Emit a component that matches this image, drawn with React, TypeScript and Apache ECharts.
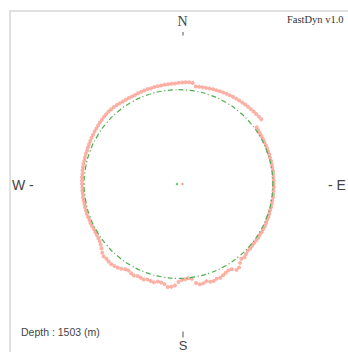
import { useEffect, useRef } from "react";
import * as echarts from "echarts";

// Compass bearing of each caliper reading (deg, clockwise from North)
const ANGLES = [
  0, 2, 4, 6, 8, 10, 12, 14, 16, 18, 20, 22, 24, 26, 28, 30, 32, 34, 36, 38,
  40, 42, 44, 46, 48, 50, 52, 54, 56, 58, 60, 62, 64, 66, 68, 70, 72, 74, 76, 78,
  80, 82, 84, 86, 88, 90, 92, 94, 96, 98, 100, 102, 104, 106, 108, 110, 112, 114, 116, 118,
  120, 122, 124, 126, 128, 130, 132, 134, 136, 138, 140, 142, 144, 146, 148, 150, 152, 154, 156, 158,
  160, 162, 164, 166, 168, 170, 172, 174, 176, 178, 180, 182, 184, 186, 188, 190, 192, 194, 196, 198,
  200, 202, 204, 206, 208, 210, 212, 214, 216, 218, 220, 222, 224, 226, 228, 230, 232, 234, 236, 238,
  240, 242, 244, 246, 248, 250, 252, 254, 256, 258, 260, 262, 264, 266, 268, 270, 272, 274, 276, 278,
  280, 282, 284, 286, 288, 290, 292, 294, 296, 298, 300, 302, 304, 306, 308, 310, 312, 314, 316, 318,
  320, 322, 324, 326, 328, 330, 332, 334, 336, 338, 340, 342, 344, 346, 348, 350, 352, 354, 356, 358,
];

// Measured borehole radius at each bearing
const RADII = [
  101.3, 101.6, 102.0, 102.3, 102.1, 99.0, 99.3, 99.7, 100.0, 100.4,
  100.8, 101.1, 101.6, 101.9, 102.3, 102.5, 102.8, 103.0, 103.3, 103.5,
  103.7, 103.9, 104.1, 104.4, 104.5, 104.8, 105.0, 96.6, 96.2, 96.0,
  95.8, 95.7, 95.5, 95.6, 95.4, 95.3, 95.5, 95.2, 95.4, 95.3,
  95.2, 95.4, 95.3, 95.1, 95.3, 95.2, 95.4, 95.1, 95.3, 95.5,
  95.2, 95.4, 95.6, 95.3, 95.5, 95.8, 95.6, 95.9, 96.1, 95.8,
  96.2, 96.0, 96.3, 96.1, 95.8, 96.0, 96.4, 96.1, 97.2, 98.6,
  97.6, 100.1, 103.1, 103.6, 100.6, 99.8, 100.4, 101.6, 102.6, 102.1,
  103.2, 102.8, 101.1, 102.4, 102.6, 100.6, 95.6, 94.8, 95.4, 96.1,
  98.1, 101.6, 103.1, 103.6, 101.1, 100.1, 99.6, 101.4, 100.8, 100.4,
  101.6, 101.1, 100.6, 101.8, 101.1, 100.0, 100.4, 102.1, 103.4, 104.1,
  104.6, 104.4, 103.8, 104.2, 102.6, 100.4, 98.8, 97.4, 96.8, 96.4,
  96.1, 95.9, 96.1, 96.3, 96.0, 96.3, 96.5, 96.2, 96.4, 96.1,
  96.3, 96.5, 96.2, 96.4, 96.3, 96.5, 96.6, 96.8, 96.6, 96.9,
  97.0, 97.2, 97.0, 97.3, 97.5, 97.4, 97.7, 97.9, 98.2, 98.5,
  98.7, 98.9, 99.1, 99.4, 99.8, 100.0, 100.3, 100.5, 100.7, 100.6,
  100.4, 100.2, 99.9, 99.6, 99.4, 99.2, 99.0, 99.1, 99.3, 99.5,
  99.6, 99.8, 99.7, 99.9, 100.0, 100.1, 100.2, 100.3, 100.4, 100.5,
];

// Fitted circle
const FIT_RADIUS = 94.3;
const FIT_ANGLES = [
  0, 10, 20, 30, 40, 50, 60, 70, 80, 90, 100, 110, 120, 130, 140, 150, 160, 170,
  180, 190, 200, 210, 220, 230, 240, 250, 260, 270, 280, 290, 300, 310, 320, 330, 340, 350, 360,
];

// Centres: [radius, bearing]
const TOOL_CENTRE = [4, 90];
const FIT_CENTRE = [1.5, 270];

const DEPTH_M = 1503;
const TITLE = "FastDyn v1.0";

export default function App() {
  const ref = useRef<HTMLDivElement>(null);

  useEffect(() => {
    if (!ref.current) return;
    const chart = echarts.init(ref.current, null, { renderer: "svg" });
    const sans = "'Liberation Sans', Arial, sans-serif";
    const serif = "'Liberation Serif', 'Times New Roman', serif";
    chart.setOption({
      animation: false,
      backgroundColor: "#ffffff",
      polar: { center: [178.5, 184], radius: 120 },
      angleAxis: {
        type: "value",
        min: 0,
        max: 360,
        startAngle: 90,
        clockwise: true,
        show: false,
      },
      radiusAxis: { type: "value", min: 0, max: 120, show: false },
      series: [
        {
          type: "line",
          coordinateSystem: "polar",
          data: FIT_ANGLES.map((a) => [FIT_RADIUS, a]),
          smooth: true,
          symbol: "none",
          lineStyle: { color: "#4fae4f", width: 1.2, type: [5, 2.5, 1.2, 2.5] },
          z: 3,
        },
        {
          type: "scatter",
          coordinateSystem: "polar",
          data: ANGLES.map((a, i) => [RADII[i], a]),
          symbolSize: 4,
          itemStyle: { color: "rgba(250,120,100,0.72)" },
          z: 2,
        },
        {
          type: "scatter",
          coordinateSystem: "polar",
          data: [FIT_CENTRE],
          symbolSize: 2.5,
          itemStyle: { color: "#4fae4f" },
          z: 4,
        },
        {
          type: "scatter",
          coordinateSystem: "polar",
          data: [TOOL_CENTRE],
          symbolSize: 2.5,
          itemStyle: { color: "rgba(250,120,100,0.9)" },
          z: 4,
        },
      ],
      graphic: [
        {
          type: "rect",
          shape: { x: 10, y: 11, width: 600, height: 600 },
          style: { fill: "none", stroke: "#e0e0e0", lineWidth: 2 },
          silent: true,
        },
        {
          type: "text",
          x: 182.5,
          y: 21,
          style: { text: "N", font: `14px ${serif}`, fill: "#444", align: "center", verticalAlign: "middle" },
        },
        {
          type: "line",
          shape: { x1: 183, y1: 32, x2: 183, y2: 35.5 },
          style: { stroke: "#555", lineWidth: 1 },
        },
        {
          type: "text",
          x: 183,
          y: 345.5,
          style: { text: "S", font: `13px ${sans}`, fill: "#444", align: "center", verticalAlign: "middle" },
        },
        {
          type: "line",
          shape: { x1: 183, y1: 331.5, x2: 183, y2: 337.5 },
          style: { stroke: "#555", lineWidth: 1 },
        },
        {
          type: "text",
          x: 12,
          y: 184.5,
          style: { text: "W -", font: `14px ${sans}`, fill: "#444", align: "left", verticalAlign: "middle" },
        },
        {
          type: "text",
          x: 328,
          y: 184.5,
          style: { text: "- E", font: `14px ${sans}`, fill: "#444", align: "left", verticalAlign: "middle" },
        },
        {
          type: "text",
          x: 287,
          y: 19.5,
          style: { text: TITLE, font: `10.5px ${serif}`, fill: "#333", align: "left", verticalAlign: "middle" },
        },
        {
          type: "text",
          x: 21,
          y: 331.5,
          style: { text: `Depth : ${DEPTH_M} (m)`, font: `10.5px ${sans}`, fill: "#444", align: "left", verticalAlign: "middle" },
        },
      ],
    });
    return () => chart.dispose();
  }, []);

  return (
    <div
      ref={ref}
      style={{ position: "absolute", left: 0, top: 0, width: 348, height: 352 }}
    />
  );
}
